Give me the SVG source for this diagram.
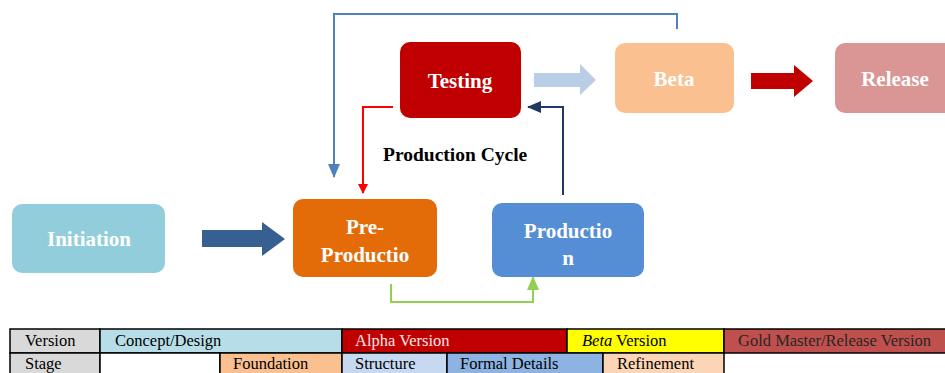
<svg xmlns="http://www.w3.org/2000/svg" width="945" height="373" viewBox="0 0 945 373">
<defs>
<style>
.lbl{font-family:"Liberation Serif","Times New Roman",serif;font-weight:bold;font-size:21px;fill:#ffffff;text-anchor:middle}
.cap{font-family:"Liberation Serif","Times New Roman",serif;font-weight:bold;font-size:19.5px;fill:#000000}
.tt{font-family:"Liberation Serif","Times New Roman",serif;font-size:16.5px;fill:#000000}
.cell{stroke:#000000;stroke-width:1.5}
.conn{fill:none;stroke-width:2}
</style>
<marker id="mRed" markerWidth="10" markerHeight="10" refX="9" refY="5" orient="auto" markerUnits="userSpaceOnUse"><path d="M0,0 L10,5 L0,10 z" fill="#ff0000"/></marker>
<marker id="mNavy" markerWidth="14" markerHeight="12" refX="13" refY="6" orient="auto" markerUnits="userSpaceOnUse"><path d="M0,0 L14,6 L0,12 z" fill="#1f3864"/></marker>
<marker id="mBlue" markerWidth="14" markerHeight="12" refX="13" refY="6" orient="auto" markerUnits="userSpaceOnUse"><path d="M0,0 L14,6 L0,12 z" fill="#4f81bd"/></marker>
<marker id="mGreen" markerWidth="14" markerHeight="12" refX="13" refY="6" orient="auto" markerUnits="userSpaceOnUse"><path d="M0,0 L14,6 L0,12 z" fill="#92d050"/></marker>
</defs>
<rect width="945" height="373" fill="#ffffff"/>

<g id="connectors">
<polygon points="202,230 262,230 262,222 285,239 262,256 262,247 202,247" fill="#366092"/>
<polygon points="534,73 580,73 580,64 596,80 580,95 580,87 534,87" fill="#b9cde5"/>
<polygon points="751,73 794,73 794,65 813,81 794,97 794,89 751,89" fill="#c00000"/>
<polyline class="conn" points="393,107 363,107 363,193" stroke="#ff0000" marker-end="url(#mRed)"/>
<polyline class="conn" points="563,195 563,107 528,107" stroke="#1f3864" marker-end="url(#mNavy)"/>
<polyline class="conn" points="677,29 677,14 334,14 334,177" stroke="#4f81bd" marker-end="url(#mBlue)"/>
<polyline class="conn" points="391,284 391,302 533,302 533,277" stroke="#92d050" marker-end="url(#mGreen)"/>
</g>

<g id="initiation">
<rect x="12" y="204" width="153" height="69" rx="10" fill="#92cddc"/>
<text class="lbl" x="89" y="246">Initiation</text>
</g>
<g id="preproduction">
<rect x="293" y="199" width="144" height="78" rx="10" fill="#e36c09"/>
<text class="lbl" x="365" y="234">Pre-</text>
<text class="lbl" x="365" y="262">Productio</text>
</g>
<g id="production">
<rect x="492" y="203" width="152" height="74" rx="10" fill="#558ed5"/>
<text class="lbl" x="568" y="238">Productio</text>
<text class="lbl" x="568" y="265">n</text>
</g>
<g id="testing">
<rect x="400" y="42" width="121" height="76" rx="10" fill="#c00000"/>
<text class="lbl" x="460" y="88">Testing</text>
</g>
<g id="beta">
<rect x="615" y="43" width="119" height="70" rx="10" fill="#fac090"/>
<text class="lbl" x="674" y="86">Beta</text>
</g>
<g id="release">
<rect x="835" y="43" width="125" height="70" rx="10" fill="#d99694"/>
<text class="lbl" x="895" y="86">Release</text>
</g>
<g id="caption">
<text class="cap" x="383" y="161">Production Cycle</text>
</g>

<g id="table">
<rect class="cell" x="10" y="329" width="90" height="24" fill="#d9d9d9"/>
<rect class="cell" x="100" y="329" width="242" height="24" fill="#b7dee8"/>
<rect class="cell" x="342" y="329" width="225" height="24" fill="#c00000"/>
<rect class="cell" x="567" y="329" width="157" height="24" fill="#ffff00"/>
<rect class="cell" x="724" y="329" width="224" height="24" fill="#c0504d"/>
<rect class="cell" x="10" y="353" width="90" height="24" fill="#d9d9d9"/>
<rect class="cell" x="100" y="353" width="120" height="24" fill="#ffffff"/>
<rect class="cell" x="220" y="353" width="122" height="24" fill="#fac090"/>
<rect class="cell" x="342" y="353" width="105" height="24" fill="#c6d9f1"/>
<rect class="cell" x="447" y="353" width="156" height="24" fill="#8db3e2"/>
<rect class="cell" x="603" y="353" width="121" height="24" fill="#fbd5b5"/>
<text class="tt" x="25" y="346">Version</text>
<text class="tt" x="115" y="346">Concept/Design</text>
<text class="tt" x="355" y="346" style="fill:#fde9e9">Alpha Version</text>
<text class="tt" x="582" y="346"><tspan font-style="italic">Beta</tspan> Version</text>
<text class="tt" x="738" y="346" style="fill:#262626">Gold Master/Release Version</text>
<text class="tt" x="25" y="369">Stage</text>
<text class="tt" x="233" y="369">Foundation</text>
<text class="tt" x="355" y="369">Structure</text>
<text class="tt" x="460" y="369">Formal Details</text>
<text class="tt" x="617" y="369">Refinement</text>
</g>
</svg>
